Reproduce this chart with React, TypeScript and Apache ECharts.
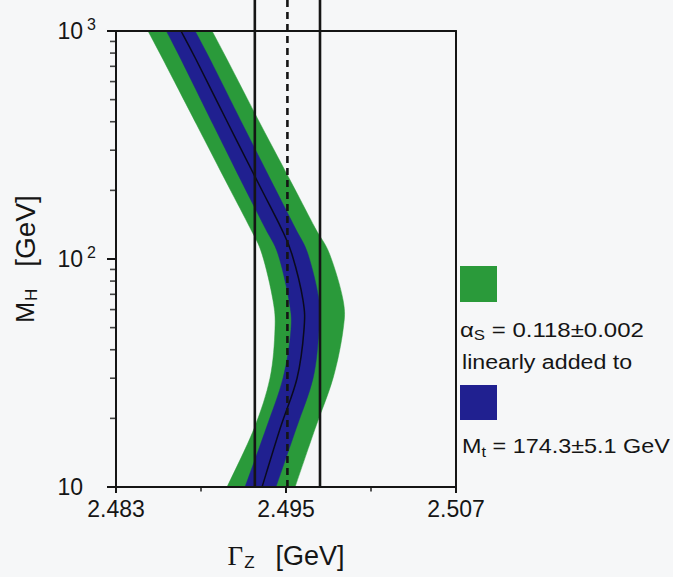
import React, { useEffect, useRef } from "react";
import * as echarts from "echarts";

// Higgs mass values (GeV) at which the predicted Gamma_Z band is sampled
const higgsMass = [1000, 750, 390, 210, 137, 105, 66, 49, 30, 18, 10];
// Predicted Gamma_Z (GeV): central curve and band edges
const gammaCentral = [2.48759, 2.48865, 2.49094, 2.49313, 2.49465, 2.49542, 2.4962, 2.49627, 2.49578, 2.49458, 2.49331];
const gammaBlueLow = [2.48656, 2.48759, 2.48985, 2.492, 2.49352, 2.49444, 2.49521, 2.49535, 2.49479, 2.49359, 2.49211];
const gammaBlueHigh = [2.48858, 2.48964, 2.49193, 2.49412, 2.49564, 2.49655, 2.49733, 2.49733, 2.49691, 2.49571, 2.49429];
const gammaGreenLow = [2.48526, 2.48632, 2.48868, 2.49091, 2.49246, 2.49331, 2.49408, 2.49422, 2.49387, 2.49274, 2.49084];
const gammaGreenHigh = [2.48978, 2.49084, 2.4932, 2.49549, 2.49705, 2.49808, 2.49903, 2.49903, 2.49832, 2.49705, 2.49564];

// Measured Gamma_Z: low edge, central value, high edge
const measuredLow = [2.4928];
const measuredCentral = [2.4951];
const measuredHigh = [2.4974];

// Axis ticks
const xTickValues = [2.483, 2.495, 2.507];
const xMinorTickValues = [2.489, 2.501];
const yMinorTickValues = [20, 30, 40, 50, 60, 70, 80, 90, 200, 300, 400, 500, 600, 700, 800, 900];

// Legend texts
const legendAlpha = ["α", "S", " = 0.118±0.002"];
const legendLinear = "linearly added to";
const legendTop = ["M", "t", " = 174.3±5.1 GeV"];

const GREEN = "#2a9a3a";
const BLUE = "#202090";
const INK = "#151515";
const FONT = "Liberation Sans, Arial, sans-serif";

const bands = [
  { low: gammaGreenLow, high: gammaGreenHigh, color: GREEN },
  { low: gammaBlueLow, high: gammaBlueHigh, color: BLUE },
];

// Catmull-Rom -> cubic bezier segments through pixel points (rendering smoothing only)
function curveSegments(p: number[][]): string {
  let d = "";
  const n = p.length;
  for (let i = 0; i < n - 1; i++) {
    const p0 = p[Math.max(0, i - 1)];
    const p1 = p[i];
    const p2 = p[i + 1];
    const p3 = p[Math.min(n - 1, i + 2)];
    const c1x = p1[0] + (p2[0] - p0[0]) / 6;
    const c1y = p1[1] + (p2[1] - p0[1]) / 6;
    const c2x = p2[0] - (p3[0] - p1[0]) / 6;
    const c2y = p2[1] - (p3[1] - p1[1]) / 6;
    d += ` C${c1x},${c1y} ${c2x},${c2y} ${p2[0]},${p2[1]}`;
  }
  return d;
}

export default function App() {
  const ref = useRef<HTMLDivElement>(null);

  useEffect(() => {
    if (!ref.current) return;
    const chart = echarts.init(ref.current, null, { renderer: "svg" });

    const xMin = xTickValues[0];
    const xMax = xTickValues[xTickValues.length - 1];

    const vline = (v: number, dashed: boolean) => ({
      type: "line",
      xAxisIndex: 2,
      yAxisIndex: 2,
      data: [
        [v, 0],
        [v, 1],
      ],
      showSymbol: false,
      symbol: "none",
      silent: true,
      z: 4,
      lineStyle: { color: INK, width: 2.6, type: dashed ? [7, 5] : "solid" },
    });

    const option: any = {
      animation: false,
      backgroundColor: "#f6f7f8",
      grid: [
        { left: 116, right: 217, top: 31, bottom: 90 },
        { left: 116, right: 217, top: 0, bottom: 90 },
      ],
      xAxis: [
        {
          type: "value",
          gridIndex: 0,
          min: xMin,
          max: xMax,
          z: 6,
          axisLine: { show: true, onZero: false, lineStyle: { color: INK, width: 2 } },
          axisTick: { show: true, length: 6, customValues: xTickValues, lineStyle: { color: INK, width: 2 } },
          axisLabel: {
            customValues: xTickValues,
            formatter: (v: number) => v.toFixed(3),
            fontSize: 23,
            fontFamily: FONT,
            color: INK,
            margin: 10,
          },
          splitLine: { show: false },
          name: "{g|Γ}{z|Z}   {u|[GeV]}",
          nameLocation: "middle",
          nameGap: 53,
          nameTextStyle: {
            fontSize: 25,
            fontFamily: FONT,
            color: INK,
            rich: {
              g: { fontSize: 27, fontFamily: "Liberation Serif, serif", color: INK },
              z: { fontSize: 17, fontFamily: FONT, color: INK, padding: [14, 0, 0, 1] },
              u: { fontSize: 27, fontFamily: FONT, color: INK },
            },
          },
        },
        {
          type: "value",
          gridIndex: 0,
          position: "top",
          min: xMin,
          max: xMax,
          z: 6,
          axisLine: { show: true, onZero: false, lineStyle: { color: INK, width: 2 } },
          axisTick: { show: false },
          axisLabel: { show: false },
          splitLine: { show: false },
        },
        { type: "value", gridIndex: 1, min: xMin, max: xMax, show: false },
      ],
      yAxis: [
        {
          type: "log",
          logBase: 10,
          gridIndex: 0,
          min: 10,
          max: 1000,
          z: 6,
          axisLine: { show: true, onZero: false, lineStyle: { color: INK, width: 2 } },
          axisTick: { show: true, length: 9, lineStyle: { color: INK, width: 2 } },
          axisLabel: {
            margin: 20,
            formatter: (v: number) => {
              const e = Math.round(Math.log10(v));
              return e === 1 ? "{b|10}{h|2}" : `{b|10}{s|${e}}`;
            },
            rich: {
              b: { fontSize: 23, fontFamily: FONT, color: INK },
              s: { fontSize: 16, fontFamily: FONT, color: INK, padding: [0, 0, 14, 4] },
              h: { fontSize: 16, fontFamily: FONT, color: "transparent", padding: [0, 0, 14, 4] },
            },
          },
          splitLine: { show: false },
          name: "M{h|H}{gap|}{u|[GeV]}",
          nameLocation: "middle",
          nameGap: 76,
          nameTextStyle: {
            fontSize: 25,
            fontFamily: FONT,
            color: INK,
            rich: {
              h: { fontSize: 17, fontFamily: FONT, color: INK, padding: [13, 0, 0, 1] },
              gap: { width: 22 },
              u: { fontSize: 28, fontFamily: FONT, color: INK },
            },
          },
        },
        {
          type: "log",
          logBase: 10,
          gridIndex: 0,
          position: "right",
          min: 10,
          max: 1000,
          z: 6,
          axisLine: { show: true, onZero: false, lineStyle: { color: INK, width: 2 } },
          axisTick: { show: false },
          axisLabel: { show: false },
          splitLine: { show: false },
        },
        { type: "value", gridIndex: 1, min: 0, max: 1, show: false },
      ],
      series: [
        {
          type: "custom",
          xAxisIndex: 0,
          yAxisIndex: 0,
          silent: true,
          z: 2,
          data: [0, 1, 2].map(() => [gammaCentral[5], higgsMass[5]]),
          renderItem: (params: any, api: any) => {
            const idx = params.dataIndex;
            if (idx === 2) {
              const c = higgsMass.map((m, i) => api.coord([gammaCentral[i], m]));
              return {
                type: "path",
                shape: { pathData: `M${c[0][0]},${c[0][1]}` + curveSegments(c) },
                style: { fill: "none", stroke: "#0a0a1e", lineWidth: 1.5 },
              };
            }
            const b = bands[idx];
            const lo = higgsMass.map((m, i) => api.coord([b.low[i], m]));
            const hi = higgsMass.map((m, i) => api.coord([b.high[i], m])).reverse();
            const d =
              `M${lo[0][0]},${lo[0][1]}` +
              curveSegments(lo) +
              ` L${hi[0][0]},${hi[0][1]}` +
              curveSegments(hi) +
              " Z";
            return {
              type: "path",
              shape: { pathData: d },
              style: { fill: b.color, stroke: b.color, lineWidth: 0.5 },
            };
          },
        },
        vline(measuredLow[0], false),
        vline(measuredCentral[0], true),
        vline(measuredHigh[0], false),
        {
          type: "scatter",
          xAxisIndex: 0,
          yAxisIndex: 0,
          clip: false,
          silent: true,
          symbol: "rect",
          symbolSize: [5, 1.6],
          symbolOffset: [-3.5, 0],
          itemStyle: { color: INK },
          data: yMinorTickValues.map((v) => [xMin, v]),
          z: 6,
        },
        {
          type: "scatter",
          xAxisIndex: 0,
          yAxisIndex: 0,
          clip: false,
          silent: true,
          symbol: "rect",
          symbolSize: [1.8, 4],
          symbolOffset: [0, 2.5],
          itemStyle: { color: INK },
          data: xMinorTickValues.map((v) => [v, 10]),
          z: 6,
        },
      ],
      graphic: [
        { type: "rect", left: 460, top: 266, shape: { width: 37, height: 36 }, style: { fill: GREEN } },
        {
          type: "text",
          x: 460,
          y: 330,
          scaleX: 1.2,
          style: {
            text: `{a|${legendAlpha[0]}}{s|${legendAlpha[1]}}{t|${legendAlpha[2]}}`,
            verticalAlign: "middle",
            rich: {
              a: { fontSize: 20, fontFamily: FONT, fill: INK, color: INK },
              s: { fontSize: 14, fontFamily: FONT, fill: INK, color: INK, padding: [11, 0, 0, 0] },
              t: { fontSize: 20, fontFamily: FONT, fill: INK, color: INK },
            },
          },
        },
        {
          type: "text",
          x: 462,
          y: 362,
          scaleX: 1.16,
          style: { text: legendLinear, fontSize: 20, fontFamily: FONT, fill: INK, verticalAlign: "middle" },
        },
        { type: "rect", left: 460, top: 385, shape: { width: 37, height: 35 }, style: { fill: BLUE } },
        {
          type: "text",
          x: 462,
          y: 446,
          scaleX: 1.17,
          style: {
            text: `{a|${legendTop[0]}}{s|${legendTop[1]}}{t|${legendTop[2]}}`,
            verticalAlign: "middle",
            rich: {
              a: { fontSize: 20, fontFamily: FONT, fill: INK, color: INK },
              s: { fontSize: 14, fontFamily: FONT, fill: INK, color: INK, padding: [11, 0, 0, 0] },
              t: { fontSize: 20, fontFamily: FONT, fill: INK, color: INK },
            },
          },
        },
      ],
    };

    chart.setOption(option);
    return () => chart.dispose();
  }, []);

  return (
    <div
      ref={ref}
      style={{ position: "absolute", left: 0, top: 0, width: 673, height: 577 }}
    />
  );
}
